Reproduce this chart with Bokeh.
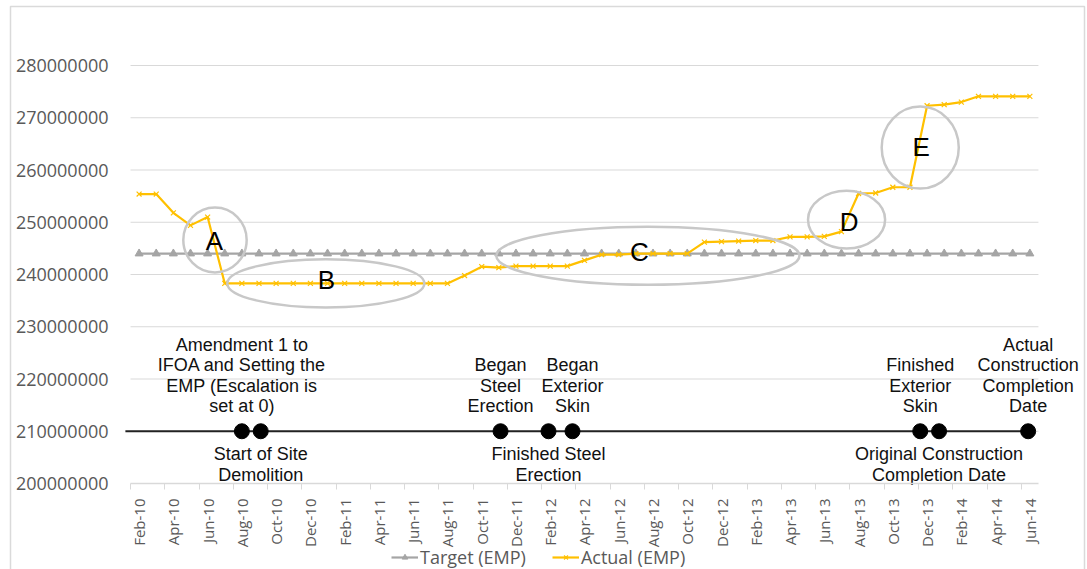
import math
from bokeh.plotting import figure
from bokeh.models import FixedTicker, Range1d, Legend, LegendItem
from bokeh.embed import file_html
from bokeh.resources import INLINE
from bokeh.core.properties import value

months = ["Feb-10", "Mar-10", "Apr-10", "May-10", "Jun-10", "Jul-10", "Aug-10", "Sep-10", "Oct-10", "Nov-10",
          "Dec-10", "Jan-11", "Feb-11", "Mar-11", "Apr-11", "May-11", "Jun-11", "Jul-11", "Aug-11", "Sep-11",
          "Oct-11", "Nov-11", "Dec-11", "Jan-12", "Feb-12", "Mar-12", "Apr-12", "May-12", "Jun-12", "Jul-12",
          "Aug-12", "Sep-12", "Oct-12", "Nov-12", "Dec-12", "Jan-13", "Feb-13", "Mar-13", "Apr-13", "May-13",
          "Jun-13", "Jul-13", "Aug-13", "Sep-13", "Oct-13", "Nov-13", "Dec-13", "Jan-14", "Feb-14", "Mar-14",
          "Apr-14", "May-14", "Jun-14"]

target = [244000000, 244000000, 244000000, 244000000, 244000000, 244000000, 244000000, 244000000, 244000000,
          244000000, 244000000, 244000000, 244000000, 244000000, 244000000, 244000000, 244000000, 244000000,
          244000000, 244000000, 244000000, 244000000, 244000000, 244000000, 244000000, 244000000, 244000000,
          244000000, 244000000, 244000000, 244000000, 244000000, 244000000, 244000000, 244000000, 244000000,
          244000000, 244000000, 244000000, 244000000, 244000000, 244000000, 244000000, 244000000, 244000000,
          244000000, 244000000, 244000000, 244000000, 244000000, 244000000, 244000000, 244000000]

actual = [255400000, 255400000, 251800000, 249400000, 251000000, 238300000, 238300000, 238300000, 238300000,
          238300000, 238300000, 238300000, 238300000, 238300000, 238300000, 238300000, 238300000, 238300000,
          238300000, 239800000, 241500000, 241300000, 241600000, 241600000, 241600000, 241600000, 242700000,
          243800000, 243800000, 244000000, 244000000, 244000000, 244000000, 246200000, 246300000, 246400000,
          246500000, 246500000, 247200000, 247200000, 247300000, 248200000, 255500000, 255600000, 256700000,
          256700000, 272300000, 272500000, 273000000, 274100000, 274100000, 274100000, 274100000]

y_ticks = [200000000, 210000000, 220000000, 230000000, 240000000, 250000000, 260000000, 270000000, 280000000]

# milestones (position in months from Feb-10)
milestone_x = [6.0, 7.1, 21.1, 23.9, 25.3, 45.6, 46.7, 51.9]
milestone_labels = ["Amendment 1 to\nIFOA and Setting the\nEMP (Escalation is\nset at 0)",
                    "Start of Site\nDemolition",
                    "Began\nSteel\nErection",
                    "Finished Steel\nErection",
                    "Began\nExterior\nSkin",
                    "Finished\nExterior\nSkin",
                    "Original Construction\nCompletion Date",
                    "Actual\nConstruction\nCompletion\nDate"]
milestone_side = ["above", "below", "above", "below", "above", "above", "below", "above"]
milestone_level = 210000000
timeline_start = -0.8

# highlighted regions
region_letters = ["A", "B", "C", "D", "E"]
region_x = [4.43, 10.9, 29.7, 41.3, 45.6]
region_y = [246600000, 238300000, 243600000, 250500000, 264300000]
region_w = [3.7, 11.5, 17.7, 4.5, 4.5]
region_h = [12400000, 9200000, 11100000, 11100000, 15700000]
letter_x = [4.4, 10.94, 29.2, 41.45, 45.65]
letter_y = [246400000, 238950000, 244400000, 250100000, 264400000]

GRAY_TXT = "#595959"
GRID = "#d9d9d9"

# layout: frame covers the whole canvas; axes drawn at fixed locations
W, H = 1087, 569
PX_PER_MONTH = 17.13
X0_PX = 138.6          # pixel of first category
PX_PER_VAL = 5.225e-6  # pixels per unit of value
Y280_PX = 65.0
x_start = -X0_PX / PX_PER_MONTH
x_end = (W - X0_PX) / PX_PER_MONTH
y_top = y_ticks[-1] + Y280_PX / PX_PER_VAL
y_bot = y_ticks[-1] - (H - Y280_PX) / PX_PER_VAL


def px_x(px):
    return (px - X0_PX) / PX_PER_MONTH


def px_y(py):
    return y_ticks[-1] - (py - Y280_PX) / PX_PER_VAL


p = figure(width=W, height=H, output_backend="svg", toolbar_location=None,
           x_range=Range1d(x_start, x_end), y_range=Range1d(y_bot, y_top), min_border=0)
p.min_border_left = 0
p.min_border_right = 0
p.min_border_top = 0
p.min_border_bottom = 0
p.outline_line_color = None
p.background_fill_color = "white"
p.border_fill_color = "white"

xs = list(range(len(months)))
cat_bounds = (-0.5, len(months) - 0.5)

# outer chart border
p.quad(left=[px_x(10)], right=[px_x(1084)], top=[px_y(6)], bottom=[px_y(600)], fill_color=None,
       line_color="#dadada", line_width=1.5, level="underlay")

# grid (limited to the category area)
p.xgrid.visible = False
p.ygrid.visible = False
p.segment(x0=[cat_bounds[0]] * (len(y_ticks) - 1), x1=[cat_bounds[1]] * (len(y_ticks) - 1),
          y0=y_ticks[1:], y1=y_ticks[1:], line_color=GRID, line_width=1, level="underlay")

tick_idx = list(range(0, len(months), 2))
p.xaxis.fixed_location = y_ticks[0]
p.xaxis.bounds = cat_bounds
p.xaxis.ticker = FixedTicker(ticks=tick_idx, minor_ticks=[i - 0.5 for i in tick_idx])
p.xaxis.major_label_overrides = {i: months[i] for i in tick_idx}
p.xaxis.major_label_orientation = math.pi / 2
p.xaxis.major_tick_out = 0
p.xaxis.major_tick_in = 0
p.xaxis.minor_tick_out = 6
p.xaxis.minor_tick_in = 0
p.xaxis.minor_tick_line_color = GRID
p.xaxis.axis_line_color = GRID
p.xaxis.axis_line_width = 1.5
p.xaxis.major_label_text_font = "Open Sans"
p.xaxis.major_label_text_font_size = "15px"
p.xaxis.major_label_text_color = GRAY_TXT
p.xaxis.major_label_standoff = 9

p.yaxis.fixed_location = cat_bounds[0]
p.yaxis.ticker = FixedTicker(ticks=y_ticks)
p.yaxis.major_label_overrides = {v: str(v) for v in y_ticks}
p.yaxis.axis_line_color = None
p.yaxis.major_tick_line_color = None
p.yaxis.minor_tick_line_color = None
p.yaxis.major_label_text_font = "Open Sans"
p.yaxis.major_label_text_font_size = "18px"
p.yaxis.major_label_text_color = GRAY_TXT
p.yaxis.major_label_standoff = 16

# series
t_line = p.line(xs, target, line_color="#a5a5a5", line_width=2.2)
t_mark = p.scatter(xs, target, marker="triangle", size=8, fill_color="#a5a5a5", line_color="#a5a5a5")
a_line = p.line(xs, actual, line_color="#ffc000", line_width=2.2)
a_mark = p.scatter(xs, actual, marker="x", size=7, line_color="#ffc000", line_width=1.2)

# milestone timeline
p.line([timeline_start, max(milestone_x)], [milestone_level, milestone_level], line_color="#222222", line_width=2)
p.scatter(milestone_x, [milestone_level] * len(milestone_x), marker="circle", size=15,
          fill_color="black", line_color="black")

above_x = [x for x, s in zip(milestone_x, milestone_side) if s == "above"]
above_t = [t for t, s in zip(milestone_labels, milestone_side) if s == "above"]
below_x = [x for x, s in zip(milestone_x, milestone_side) if s == "below"]
below_t = [t for t, s in zip(milestone_labels, milestone_side) if s == "below"]
p.text(above_x, [milestone_level] * len(above_x), text=above_t, text_align="center", text_baseline="bottom",
       y_offset=-15, text_font=value("Liberation Sans"), text_font_size="18px", text_color="#111111",
       text_line_height=1.02)
p.text(below_x, [milestone_level] * len(below_x), text=below_t, text_align="center", text_baseline="top",
       y_offset=13, text_font=value("Liberation Sans"), text_font_size="18px", text_color="#111111",
       text_line_height=1.02)

# region ellipses and letters
p.ellipse(region_x, region_y, width=region_w, height=region_h, fill_color=None,
          line_color="#c8c8c8", line_width=2.5)
p.text(letter_x, letter_y, text=region_letters, text_align="center", text_baseline="middle",
       text_font=value("Liberation Sans"), text_font_size="26px", text_color="black")

legend = Legend(items=[LegendItem(label="Target (EMP)", renderers=[t_line, t_mark]),
                       LegendItem(label="Actual (EMP)", renderers=[a_line, a_mark])],
                orientation="horizontal", location=(391, 0), border_line_color=None,
                background_fill_alpha=0, glyph_width=27, glyph_height=14, label_text_font="Open Sans",
                label_text_font_size="18px", label_text_color=GRAY_TXT, spacing=26, padding=0, margin=0,
                label_standoff=2)
p.add_layout(legend)

open("out.html", "w").write(file_html(p, INLINE))
